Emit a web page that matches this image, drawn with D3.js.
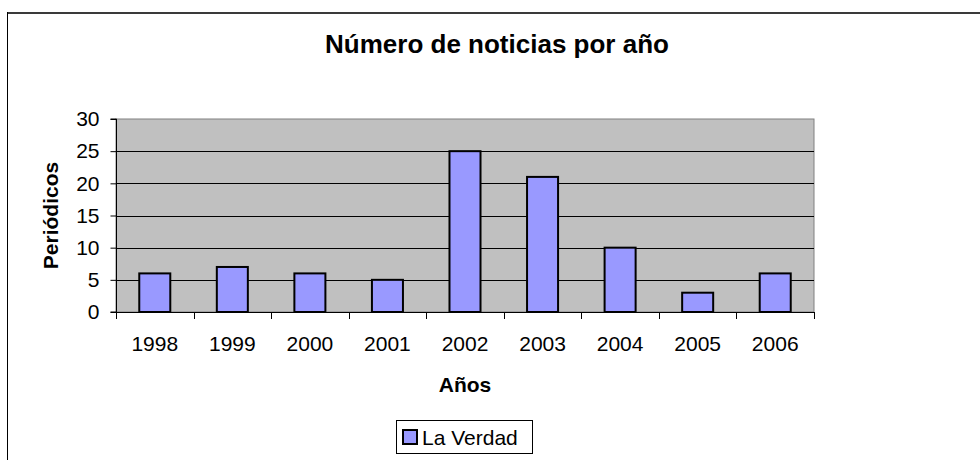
<!DOCTYPE html>
<html>
<head>
<meta charset="utf-8">
<script src="https://cdn.jsdelivr.net/npm/d3@7"></script>
<style>
  body { margin: 0; background: #fff; }
  svg { display: block; font-family: "Liberation Sans", Arial, sans-serif; }
</style>
</head>
<body>
<svg id="chart" width="980" height="460"></svg>
<script>
var years = ["1998", "1999", "2000", "2001", "2002", "2003", "2004", "2005", "2006"];
var laVerdad = [6, 7, 6, 5, 25, 21, 10, 3, 6];
var yTicks = [0, 5, 10, 15, 20, 25, 30];
var seriesName = "La Verdad";

var svg = d3.select("#chart");

// chart frame (only top and left edges show in the crop)
svg.append("line")
    .attr("x1", 7).attr("x2", 980).attr("y1", 13).attr("y2", 13)
    .attr("stroke", "#3a3a3a").attr("stroke-width", 2);
svg.append("line")
    .attr("x1", 7.5).attr("x2", 7.5).attr("y1", 12).attr("y2", 460)
    .attr("stroke", "#000").attr("stroke-width", 1);

var plot = { left: 116, right: 814, top: 119, bottom: 312 };

var x = d3.scaleBand()
    .domain(years)
    .range([plot.left, plot.right])
    .paddingInner(0.6)
    .paddingOuter(0.3);

var y = d3.scaleLinear()
    .domain([0, 30])
    .range([plot.bottom, plot.top]);

// plot background
svg.append("rect")
    .attr("x", plot.left).attr("y", plot.top)
    .attr("width", plot.right - plot.left).attr("height", plot.bottom - plot.top)
    .attr("fill", "#c0c0c0")
    .attr("stroke", "#808080").attr("stroke-width", 1);

// gridlines
svg.selectAll(".grid")
    .data(yTicks.filter(function(d) { return d > 0 && d < 30; }))
    .enter().append("line")
    .attr("class", "grid")
    .attr("x1", plot.left).attr("x2", plot.right)
    .attr("y1", function(d) { return Math.round(y(d)) + 0.5; })
    .attr("y2", function(d) { return Math.round(y(d)) + 0.5; })
    .attr("stroke", "#000").attr("stroke-width", 1);

// bars
svg.selectAll(".bar")
    .data(laVerdad)
    .enter().append("rect")
    .attr("class", "bar")
    .attr("x", function(d, i) { return x(years[i]); })
    .attr("y", function(d) { return y(d); })
    .attr("width", x.bandwidth())
    .attr("height", function(d) { return y(0) - y(d); })
    .attr("fill", "#9999ff")
    .attr("stroke", "#000").attr("stroke-width", 2);

// y axis
var yAxis = svg.append("g")
    .attr("transform", "translate(" + (plot.left + 0.5) + ",0)")
    .call(d3.axisLeft(y).tickValues(yTicks).tickSize(6).tickPadding(11));
yAxis.selectAll("text").attr("font-size", 21).attr("fill", "#000")
    .attr("font-family", "Liberation Sans, Arial, sans-serif");
yAxis.selectAll("line, path").attr("stroke", "#000");
yAxis.select(".domain").attr("d", "M-6," + plot.top + "H0V" + plot.bottom + "H-6");

// x axis: labels from the band scale, ticks at category boundaries
var xAxis = svg.append("g")
    .attr("transform", "translate(0," + (plot.bottom + 0.5) + ")")
    .call(d3.axisBottom(x).tickSize(0).tickPadding(0));
xAxis.select(".domain").remove();
xAxis.selectAll("text")
    .attr("font-size", 21).attr("fill", "#000")
    .attr("font-family", "Liberation Sans, Arial, sans-serif")
    .attr("dy", null).attr("y", 38.5);

var step = x.step();
var bounds = years.map(function(c) { return x(c) - step * 0.3; }).concat([plot.right]);
svg.append("line")
    .attr("x1", plot.left).attr("x2", plot.right)
    .attr("y1", plot.bottom + 0.5).attr("y2", plot.bottom + 0.5)
    .attr("stroke", "#000");
svg.selectAll(".xtick")
    .data(bounds)
    .enter().append("line")
    .attr("class", "xtick")
    .attr("x1", function(d) { return Math.round(d) + 0.5; })
    .attr("x2", function(d) { return Math.round(d) + 0.5; })
    .attr("y1", plot.bottom).attr("y2", plot.bottom + 7)
    .attr("stroke", "#000");

// titles
svg.append("text")
    .attr("x", 497).attr("y", 53)
    .attr("text-anchor", "middle")
    .attr("font-size", 26).attr("font-weight", "bold")
    .text("Número de noticias por año");

svg.append("text")
    .attr("x", (plot.left + plot.right) / 2).attr("y", 392)
    .attr("text-anchor", "middle")
    .attr("font-size", 21).attr("font-weight", "bold")
    .text("Años");

svg.append("text")
    .attr("transform", "translate(58," + ((plot.top + plot.bottom) / 2) + ") rotate(-90)")
    .attr("text-anchor", "middle")
    .attr("font-size", 21).attr("font-weight", "bold")
    .text("Periódicos");

// legend
var legend = svg.append("g");
legend.append("rect")
    .attr("x", 396.5).attr("y", 420.5).attr("width", 136).attr("height", 33)
    .attr("fill", "#fff").attr("stroke", "#000");
legend.append("rect")
    .attr("x", 403).attr("y", 430).attr("width", 14).attr("height", 14)
    .attr("fill", "#9999ff").attr("stroke", "#000").attr("stroke-width", 2);
legend.append("text")
    .attr("x", 422).attr("y", 444.5)
    .attr("font-size", 21)
    .text(seriesName);
</script>
</body>
</html>
